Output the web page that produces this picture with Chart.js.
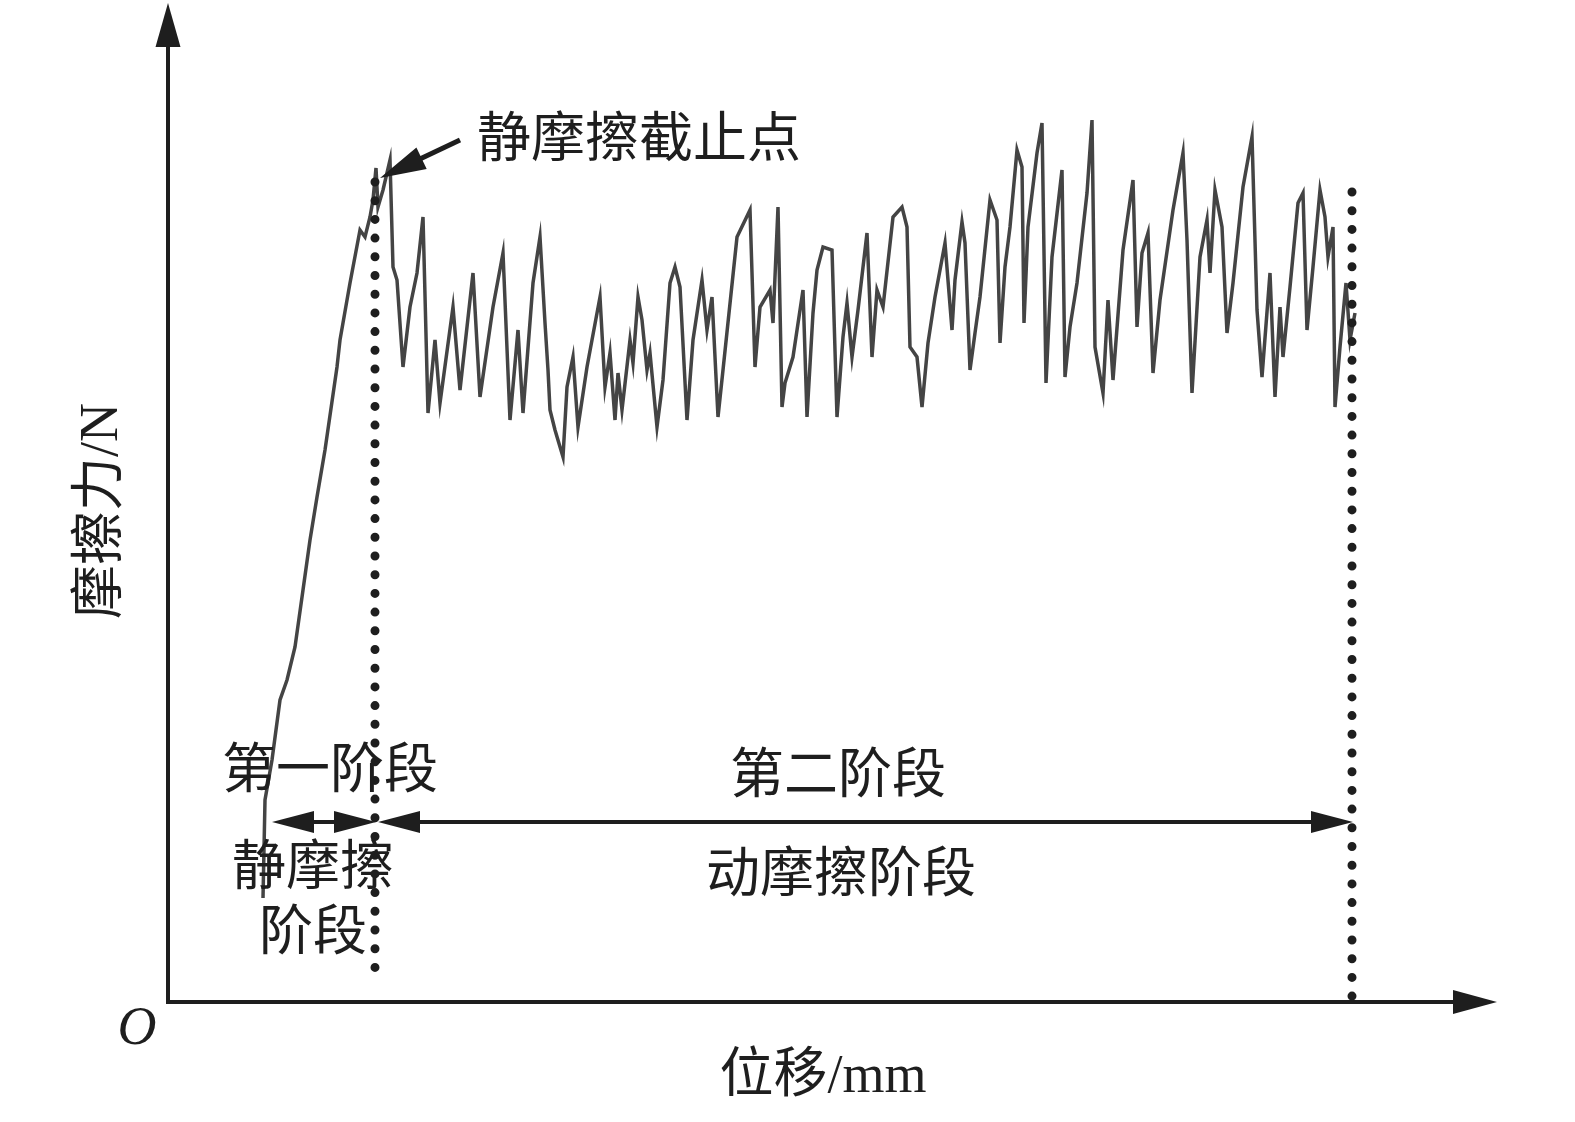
<!DOCTYPE html>
<html lang="zh">
<head>
<meta charset="utf-8">
<title>摩擦力-位移曲线</title>
<script src="https://cdn.jsdelivr.net/npm/chart.js@4/dist/chart.umd.min.js"></script>
<style>
  html, body { margin: 0; padding: 0; background: #fff; }
  #wrap { width: 1575px; height: 1122px; }
</style>
</head>
<body>
<div id="wrap"><canvas id="grafico" width="1575" height="1122"></canvas></div>
<script>
// -------------------------
// Data (arbitrary units, no ticks in the original)
// -------------------------
const displacement = [
  9.5, 9.7, 10.4, 11.2, 11.9, 12.7, 13.5, 14.2, 14.9, 15.7,
  16.9, 17.2, 18.2, 19.2, 19.7, 20.2, 20.5, 20.8, 21.0, 21.5,
  22.2, 22.5, 22.9, 23.5, 24.2, 24.9, 25.5, 26.0, 26.7, 27.2,
  28.5, 29.2, 30.5, 31.2, 32.5, 33.5, 34.2, 35.0, 35.5, 36.5,
  37.2, 37.7, 38.0, 38.2, 38.7, 39.5, 39.9, 40.5, 41.0, 41.9,
  42.4, 43.2, 43.7, 44.2, 44.7, 45.0, 45.4, 46.2, 46.5, 47.0,
  47.4, 47.9, 48.2, 48.9, 49.5, 50.2, 50.7, 51.2, 51.9, 52.5,
  53.4, 53.9, 54.4, 55.0, 55.5, 56.9, 58.2, 58.7, 59.2, 60.2,
  60.5, 61.0, 61.4, 61.7, 62.5, 63.5, 63.9, 64.5, 64.9, 65.5,
  66.4, 66.9, 67.5, 67.9, 68.4, 69.0, 69.9, 70.4, 70.9, 71.5,
  72.5, 73.4, 73.9, 74.2, 74.9, 75.4, 76.0, 76.7, 77.7, 78.4,
  78.7, 79.4, 79.7, 80.2, 80.7, 81.2, 82.2, 82.9, 83.2, 83.7,
  84.2, 84.9, 85.4, 85.6, 86.0, 86.9, 87.4, 87.8, 88.4, 89.4,
  89.7, 90.2, 90.9, 91.9, 92.4, 92.7, 93.5, 94.0, 94.5, 95.5,
  96.5, 96.9, 97.4, 98.0, 98.5, 99.2, 100.5, 101.5, 101.9, 102.4,
  103.2, 103.9, 104.2, 104.7, 105.4, 105.9, 106.5, 107.5, 108.4, 108.9,
  109.4, 110.2, 110.7, 111.2, 111.5, 112.2, 113.0, 113.5, 113.9, 114.5,
  115.2, 115.7, 116.0, 116.5, 116.7, 117.2, 117.8, 118.2, 118.7
];
const frictionForce = [
  10.4, 20.2, 24.2, 30.2, 32.2, 35.5, 41.2, 46.2, 50.5, 55.2,
  63.5, 66.2, 71.9, 77.2, 76.5, 78.5, 80.2, 83.4, 79.5, 81.2,
  84.2, 73.5, 72.2, 63.5, 69.5, 72.9, 78.5, 58.9, 66.2, 59.9,
  69.5, 61.2, 72.9, 60.5, 69.5, 74.9, 58.2, 67.2, 58.9, 71.9,
  76.5, 67.9, 63.2, 59.2, 57.2, 54.5, 61.5, 64.5, 57.5, 63.5,
  66.2, 70.5, 61.5, 64.9, 58.2, 62.9, 59.2, 66.2, 63.9, 70.5,
  68.2, 63.2, 64.9, 57.5, 62.2, 71.9, 73.5, 71.5, 58.2, 66.2,
  72.2, 67.2, 70.5, 58.5, 63.2, 76.5, 79.2, 63.5, 69.5, 71.2,
  67.9, 79.5, 59.5, 61.9, 64.5, 71.2, 58.5, 68.9, 73.2, 75.5,
  75.2, 58.5, 66.5, 69.9, 64.5, 69.2, 76.9, 64.5, 71.2, 69.5,
  78.5, 79.5, 77.5, 65.5, 64.5, 59.5, 65.9, 70.5, 75.9, 67.2,
  72.2, 78.0, 75.9, 63.2, 66.9, 70.5, 80.2, 78.2, 65.9, 73.5,
  77.5, 85.2, 83.5, 67.9, 77.5, 84.9, 87.9, 61.9, 74.5, 83.2,
  62.5, 67.5, 71.9, 80.9, 88.2, 65.5, 60.9, 70.2, 62.2, 75.2,
  82.2, 67.5, 74.9, 76.9, 62.9, 70.2, 79.2, 84.9, 76.2, 60.9,
  74.5, 78.2, 72.9, 81.2, 77.5, 66.9, 71.9, 81.5, 86.5, 69.2,
  62.5, 72.9, 60.5, 69.5, 64.5, 71.5, 79.9, 80.9, 67.2, 73.5,
  81.2, 78.5, 74.5, 77.5, 59.5, 65.5, 71.9, 66.2, 68.9
];

// stage boundaries (dotted verticals)
const cutoffX = [20.7, 118.4];
const cutoffTop = [82.0, 81.0];
const cutoffBottom = [2.0, 0.0];

// stage span arrows
const stageArrowLevel = 18.0;
const stageOneSpan = [10.4, 20.8];
const stageTwoSpan = [21.0, 118.5];

// annotation arrow (tail -> tip at the static friction peak)
const peakArrowFrom = [29.2, 86.2];
const peakArrowTo = [21.2, 82.4];

// text labels (data coordinates)
const labelTexts = ["静摩擦截止点", "第一阶段", "静摩擦", "阶段", "第二阶段", "动摩擦阶段"];
const labelX = [30.9, 16.2, 14.5, 14.5, 67.0, 67.3];
const labelY = [85.9, 22.8, 13.1, 6.6, 22.3, 12.4];
const labelAlign = ["left", "center", "center", "center", "center", "center"];

const FONT = '"Liberation Serif", "Noto Sans CJK SC", serif';
const INK = "#1e1e1e";

// -------------------------
// Helpers
// -------------------------
function triangle(ctx, tipX, tipY, dirX, dirY, len, half) {
  const n = Math.hypot(dirX, dirY);
  const ux = dirX / n, uy = dirY / n;
  const bx = tipX - ux * len, by = tipY - uy * len;
  ctx.beginPath();
  ctx.moveTo(tipX, tipY);
  ctx.lineTo(bx - uy * half, by + ux * half);
  ctx.lineTo(bx + uy * half, by - ux * half);
  ctx.closePath();
  ctx.fill();
}

function doubleArrow(ctx, x1, x2, y) {
  ctx.beginPath();
  ctx.moveTo(x1 + 20, y);
  ctx.lineTo(x2 - 20, y);
  ctx.stroke();
  triangle(ctx, x1, y, -1, 0, 42, 11);
  triangle(ctx, x2, y, 1, 0, 42, 11);
}

const decorPlugin = {
  id: "decor",
  afterDraw(chart) {
    const { ctx, chartArea, scales } = chart;
    const xs = scales.x, ys = scales.y;
    ctx.save();
    ctx.fillStyle = INK;
    ctx.strokeStyle = INK;

    // axis arrowheads
    triangle(ctx, chartArea.left, chartArea.top - 39, 0, -1, 44, 12.5);
    triangle(ctx, chartArea.right + 29, chartArea.bottom, 1, 0, 44, 12);

    // stage arrows
    ctx.lineWidth = 4;
    const yArr = ys.getPixelForValue(stageArrowLevel);
    doubleArrow(ctx, xs.getPixelForValue(stageOneSpan[0]), xs.getPixelForValue(stageOneSpan[1]), yArr);
    doubleArrow(ctx, xs.getPixelForValue(stageTwoSpan[0]), xs.getPixelForValue(stageTwoSpan[1]), yArr);

    // peak annotation arrow
    const fx = xs.getPixelForValue(peakArrowFrom[0]), fy = ys.getPixelForValue(peakArrowFrom[1]);
    const tx = xs.getPixelForValue(peakArrowTo[0]), ty = ys.getPixelForValue(peakArrowTo[1]);
    ctx.lineWidth = 5;
    ctx.beginPath();
    ctx.moveTo(fx, fy);
    ctx.lineTo(tx + (fx - tx) * 0.4, ty + (fy - ty) * 0.4);
    ctx.stroke();
    triangle(ctx, tx, ty, tx - fx, ty - fy, 46, 12);

    // labels
    ctx.font = "54px " + FONT;
    ctx.textBaseline = "middle";
    labelTexts.forEach((t, i) => {
      ctx.textAlign = labelAlign[i];
      ctx.fillText(t, xs.getPixelForValue(labelX[i]), ys.getPixelForValue(labelY[i]));
    });

    // axis titles
    ctx.textAlign = "center";
    ctx.fillText("位移/mm", chartArea.left + 655, chartArea.bottom + 76);
    ctx.save();
    ctx.translate(chartArea.left - 65, chartArea.top + 469);
    ctx.rotate(-Math.PI / 2);
    ctx.fillText("摩擦力/N", 0, 0);
    ctx.restore();

    // origin
    ctx.font = "italic 54px " + FONT;
    ctx.fillText("O", chartArea.left - 31, chartArea.bottom + 28);

    ctx.restore();
  }
};

// -------------------------
// Chart
// -------------------------
const curvePoints = displacement.map((x, i) => ({ x, y: frictionForce[i] }));
const cutoffSets = cutoffX.map((x, i) => ({
  data: [{ x, y: cutoffTop[i] }, { x, y: cutoffBottom[i] }],
  borderColor: INK,
  borderWidth: 9,
  borderDash: [0, 18.7],
  borderCapStyle: "round",
  pointRadius: 0,
  order: 0
}));

new Chart(document.getElementById("grafico"), {
  type: "line",
  data: {
    datasets: [
      {
        data: curvePoints,
        borderColor: "#444444",
        borderWidth: 3.5,
        pointRadius: 0,
        tension: 0,
        order: 1
      },
      ...cutoffSets
    ]
  },
  options: {
    responsive: false,
    animation: false,
    events: [],
    layout: { padding: { left: 168, top: 42, right: 107, bottom: 120 } },
    plugins: { legend: { display: false }, tooltip: { enabled: false } },
    scales: {
      x: {
        type: "linear",
        min: 0,
        max: 130,
        grid: { display: false, drawTicks: false },
        ticks: { display: false },
        border: { display: true, color: INK, width: 4 },
        afterFit: s => { s.height = 0; }
      },
      y: {
        min: 0,
        max: 96,
        grid: { display: false, drawTicks: false },
        ticks: { display: false },
        border: { display: true, color: INK, width: 4 },
        afterFit: s => { s.width = 0; }
      }
    }
  },
  plugins: [decorPlugin]
});
</script>
</body>
</html>
